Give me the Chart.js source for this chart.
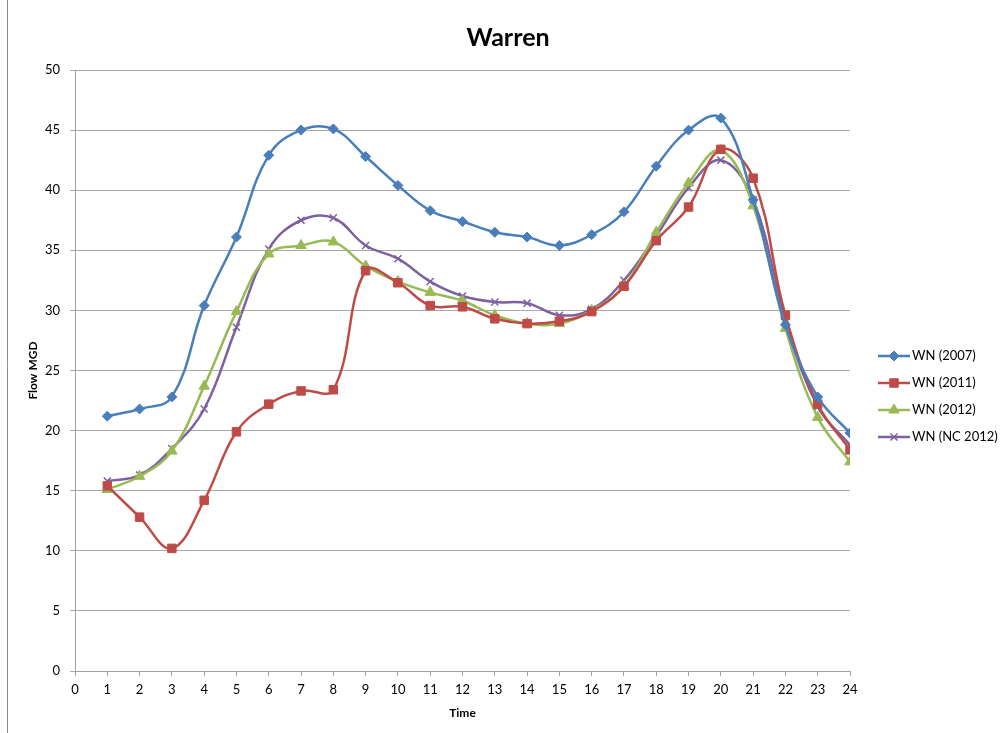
<!DOCTYPE html>
<html>
<head>
<meta charset="utf-8">
<script src="https://cdn.jsdelivr.net/npm/chart.js@4/dist/chart.umd.min.js"></script>
<style>
  html, body { margin: 0; padding: 0; background: #fff; }
  #wrap { width: 1000px; height: 733px; position: relative; }
</style>
</head>
<body>
<div id="wrap"><canvas id="flow-chart"></canvas></div>
<script>
// hourly flow, hours 1..24
const hours = [1, 2, 3, 4, 5, 6, 7, 8, 9, 10, 11, 12, 13, 14, 15, 16, 17, 18, 19, 20, 21, 22, 23, 24];
const wn2007 = [21.2, 21.8, 22.8, 30.4, 36.1, 42.9, 45.0, 45.1, 42.8, 40.4, 38.3, 37.4, 36.5, 36.1, 35.4, 36.3, 38.2, 42.0, 45.0, 46.0, 39.2, 28.8, 22.8, 19.8];
const wn2011 = [15.4, 12.8, 10.2, 14.2, 19.9, 22.2, 23.3, 23.4, 33.3, 32.3, 30.4, 30.3, 29.3, 28.9, 29.1, 29.9, 32.0, 35.8, 38.6, 43.4, 41.0, 29.6, 22.2, 18.4];
const wn2012 = [15.1, 16.2, 18.3, 23.7, 29.9, 34.7, 35.4, 35.7, 33.7, 32.4, 31.5, 30.8, 29.6, 28.9, 28.9, 30.0, 32.0, 36.5, 40.6, 43.3, 38.7, 28.5, 21.1, 17.4];
const wnNc2012 = [15.8, 16.3, 18.5, 21.8, 28.6, 35.1, 37.5, 37.7, 35.4, 34.3, 32.4, 31.2, 30.7, 30.6, 29.6, 30.1, 32.5, 36.2, 40.2, 42.5, 39.2, 29.2, 22.0, 18.8];

const seriesNames = ['WN (2007)', 'WN (2011)', 'WN (2012)', 'WN (NC 2012)'];
const seriesColors = ['#4A7EBB', '#BE4B48', '#98B954', '#7D60A0'];
const seriesMarkers = ['rectRot', 'rect', 'triangle', 'crossRot'];
const markerSizes = [5, 6, 6, 5];

const chartTitle = 'Warren';
const FONT = 'Lato, "Open Sans", "Liberation Sans", sans-serif';

function toPoints(values) {
  return values.map((v, i) => ({ x: hours[i], y: v }));
}

const datasets = [wn2007, wn2011, wn2012, wnNc2012].map((vals, i) => ({
  label: seriesNames[i],
  data: toPoints(vals),
  borderColor: seriesColors[i],
  backgroundColor: seriesColors[i],
  borderWidth: 2.5,
  tension: 0.4,
  pointStyle: seriesMarkers[i],
  pointRadius: markerSizes[i],
  pointBorderWidth: seriesMarkers[i] === 'crossRot' ? 1.5 : 1,
  pointBorderColor: seriesColors[i],
  fill: false
}));

// legend drawn as line + marker, like the spreadsheet style
const sideLegend = {
  id: 'sideLegend',
  afterDraw(chart) {
    const ctx = chart.ctx;
    const x0 = chart.chartArea.right + 28;
    let y = 356;
    ctx.save();
    datasets.forEach((ds) => {
      ctx.strokeStyle = ds.borderColor;
      ctx.lineWidth = 2.5;
      ctx.beginPath();
      ctx.moveTo(x0, y);
      ctx.lineTo(x0 + 32, y);
      ctx.stroke();
      ctx.fillStyle = ds.borderColor;
      ctx.lineWidth = ds.pointBorderWidth;
      Chart.helpers.drawPoint(ctx, {
        pointStyle: ds.pointStyle,
        radius: ds.pointRadius,
        borderWidth: ds.pointBorderWidth
      }, x0 + 16, y);
      ctx.fillStyle = '#000';
      ctx.font = '13px ' + FONT;
      ctx.textBaseline = 'middle';
      ctx.textAlign = 'left';
      ctx.fillText(ds.label, x0 + 34, y);
      y += 27;
    });
    ctx.restore();
  }
};

// frame line on the left edge + page title
const frameAndTitle = {
  id: 'frameAndTitle',
  beforeDraw(chart) {
    const ctx = chart.ctx;
    ctx.save();
    ctx.strokeStyle = '#8c8c8c';
    ctx.lineWidth = 1;
    ctx.beginPath();
    ctx.moveTo(7.5, 0);
    ctx.lineTo(7.5, chart.height);
    ctx.stroke();
    ctx.fillStyle = '#000';
    ctx.font = 'bold 25px ' + FONT;
    ctx.textAlign = 'center';
    ctx.textBaseline = 'middle';
    ctx.fillText(chartTitle, 508, 38);
    ctx.restore();
  }
};

new Chart(document.getElementById('flow-chart'), {
  type: 'line',
  data: { datasets },
  options: {
    responsive: true,
    maintainAspectRatio: false,
    animation: false,
    layout: { padding: { left: 26, right: 150, top: 70, bottom: 13 } },
    plugins: {
      legend: { display: false },
      tooltip: { enabled: false },
      title: { display: false }
    },
    scales: {
      x: {
        type: 'linear',
        min: 0,
        max: 24,
        ticks: { stepSize: 1, color: '#000', font: { family: FONT, size: 13 }, padding: 6 },
        grid: { drawOnChartArea: false, drawTicks: true, tickLength: 5, color: '#a0a0a0' },
        border: { color: '#a0a0a0' },
        title: { display: true, text: 'Time', color: '#000', font: { family: FONT, size: 12, weight: 'bold' }, padding: { top: 2, bottom: 0 } }
      },
      y: {
        min: 0,
        max: 50,
        afterFit(scale) { scale.width = 49; },
        ticks: { stepSize: 5, color: '#000', font: { family: FONT, size: 13 }, padding: 10 },
        grid: { color: '#a8a8a8', tickLength: 5 },
        border: { color: '#a0a0a0' },
        title: { display: true, text: 'Flow MGD', color: '#000', font: { family: FONT, size: 12, weight: 'bold' }, padding: { top: 0, bottom: 0 } }
      }
    }
  },
  plugins: [frameAndTitle, sideLegend]
});
</script>
</body>
</html>
